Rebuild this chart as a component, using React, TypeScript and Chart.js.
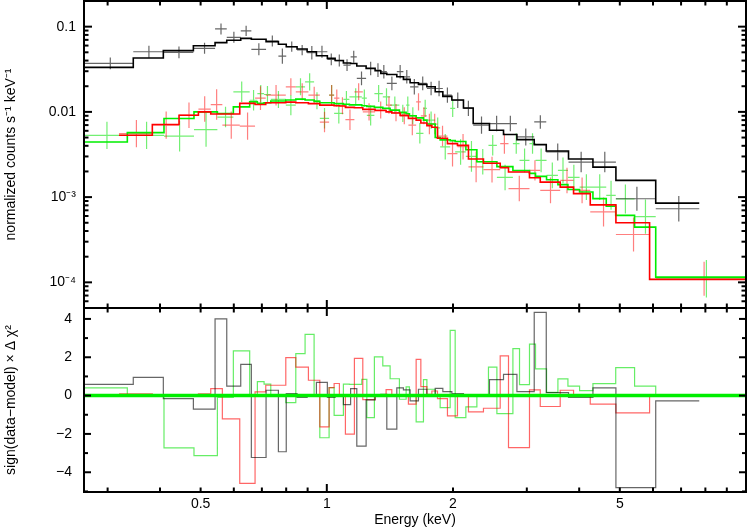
import React, { useEffect, useRef } from 'react';
import { Chart, registerables } from 'chart.js';

Chart.register(...registerables);

// ---------- axis ranges and tick labels ----------
const xRange = [0.2635, 10];
const yTopRange = [5e-5, 0.2];
const yResRange = [-5.03, 4.57];

const xTickValues = [0.5, 1, 2, 5];
const xTickLabels = ['0.5', '1', '2', '5'];
const xMinorTicks = [0.3, 0.4, 0.5, 0.6, 0.7, 0.8, 0.9, 1, 2, 3, 4, 5, 6, 7, 8, 9, 10];
const xMajorTicks = [1, 10];
const yTopTickValues = [0.1, 0.01, 0.001, 0.0001];
const yTopTickLabels = ['0.1', '0.01', '10⁻³', '10⁻⁴'];
const yResTickValues = [4, 2, 0, -2, -4];
const yResTickLabels = ['4', '2', '0', '−2', '−4'];

// ---------- black spectrum ----------
const blackEdges = [0.2635, 0.3454, 0.4074, 0.4805, 0.5413, 0.5772, 0.6233, 0.6607, 0.7163, 0.7665, 0.8003, 0.8493, 0.8975, 0.9445, 1.003, 1.0467, 1.0954, 1.1397, 1.1791, 1.241, 1.3038, 1.3452, 1.3904, 1.469, 1.5232, 1.5802, 1.6543, 1.7328, 1.8137, 1.8915, 1.9875, 2.1184, 2.2346, 2.4437, 2.6397, 2.8413, 3.1246, 3.3381, 3.7724, 4.3139, 4.8941, 6.0904, 7.7356];
const blackData = [0.0371, 0.0508, 0.0499, 0.0557, 0.094, 0.075, 0.089, 0.0542, 0.0679, 0.0452, 0.0582, 0.0532, 0.0494, 0.0508, 0.0413, 0.04, 0.0354, 0.0443, 0.0247, 0.0323, 0.0309, 0.0296, 0.0216, 0.0296, 0.0258, 0.0197, 0.0216, 0.0188, 0.0188, 0.0157, 0.0137, 0.011, 0.00699, 0.0073, 0.0073, 0.00508, 0.00762, 0.00339, 0.00258, 0.00258, 0.000957, 0.00073];
const blackErrDex = [0.07, 0.07, 0.07, 0.065, 0.065, 0.065, 0.06, 0.07, 0.065, 0.09, 0.06, 0.06, 0.08, 0.07, 0.07, 0.07, 0.07, 0.07, 0.08, 0.08, 0.08, 0.08, 0.08, 0.08, 0.08, 0.09, 0.08, 0.08, 0.09, 0.09, 0.09, 0.09, 0.1, 0.09, 0.09, 0.1, 0.08, 0.1, 0.12, 0.12, 0.14, 0.15];
const blackModel = [0.0333, 0.0428, 0.0523, 0.0598, 0.0649, 0.0692, 0.0729, 0.0711, 0.0667, 0.0621, 0.0582, 0.0547, 0.0508, 0.0456, 0.0425, 0.04, 0.0375, 0.037, 0.0345, 0.0324, 0.0304, 0.0283, 0.0275, 0.0258, 0.0241, 0.022, 0.021, 0.0197, 0.0172, 0.0152, 0.0138, 0.0111, 0.0073, 0.0061, 0.00542, 0.00473, 0.00413, 0.00347, 0.0028, 0.00225, 0.00157, 0.00085];
const blackResid = [0.59, 0.95, -0.16, -0.71, 4.0, 0.49, 1.63, -3.23, 0.28, -2.93, 0.1, -0.1, 0.05, 0.69, -0.1, 0.05, -0.47, 0.36, -2.64, -0.22, 0, 0.07, -1.75, 0.4, 0.3, -0.28, 0.33, 0.04, 0.38, 0.21, 0.1, 0, 0, 0.83, 1.11, 0.21, 4.34, 0.16, -0.1, 0.4, -4.8, -0.28];

// ---------- red spectrum ----------
const redEdges = [0.3193, 0.3835, 0.4441, 0.494, 0.5286, 0.5634, 0.6199, 0.6743, 0.7151, 0.7983, 0.8434, 0.9039, 0.9623, 1.0127, 1.041, 1.0717, 1.1076, 1.1637, 1.2186, 1.3038, 1.385, 1.4291, 1.4957, 1.5655, 1.6335, 1.6762, 1.7328, 1.7808, 1.8365, 1.94, 2.0497, 2.1773, 2.3642, 2.592, 2.7129, 3.0444, 3.2299, 3.604, 3.8781, 4.2507, 4.8941, 5.8884, 10.0];
const redData = [0.00557, 0.007, 0.00914, 0.0108, 0.0122, 0.007, 0.0068, 0.0145, 0.0157, 0.0197, 0.0172, 0.0157, 0.0076, 0.0157, 0.0145, 0.0118, 0.0081, 0.0172, 0.01, 0.0105, 0.012, 0.0098, 0.009, 0.007, 0.0131, 0.009, 0.0072, 0.0072, 0.0052, 0.00324, 0.0039, 0.00226, 0.0021, 0.00425, 0.00126, 0.00206, 0.0012, 0.00157, 0.0012, 0.00067, 0.000364, 0.00011];
const redErrDex = [0.16, 0.16, 0.15, 0.15, 0.18, 0.16, 0.16, 0.14, 0.12, 0.1, 0.1, 0.1, 0.12, 0.12, 0.1, 0.1, 0.12, 0.1, 0.1, 0.1, 0.1, 0.1, 0.1, 0.12, 0.1, 0.1, 0.12, 0.12, 0.12, 0.15, 0.15, 0.18, 0.15, 0.12, 0.15, 0.12, 0.15, 0.15, 0.15, 0.17, 0.2, 0.2];
const redModel = [0.00532, 0.00711, 0.00914, 0.01, 0.00943, 0.00943, 0.0126, 0.0122, 0.0128, 0.013, 0.0128, 0.0125, 0.012, 0.012, 0.0118, 0.0117, 0.0113, 0.0112, 0.0107, 0.0104, 0.01, 0.0097, 0.0091, 0.0084, 0.008, 0.0074, 0.0069, 0.0066, 0.0049, 0.00424, 0.00405, 0.0028, 0.0025, 0.00222, 0.00197, 0.00169, 0.0015, 0.00131, 0.0011, 0.00081, 0.0005, 0.000108];
const redResid = [0.09, 0, 0, 0.09, 0.36, -1.21, -4.58, 0.19, 0.54, 1.98, 1.49, 0.8, -1.63, 0.42, 0.63, 0, -2.01, 1.94, -0.21, 0, 0.31, 0, 0, -0.45, 1.89, 0.47, 0.07, 0.24, -0.16, -1.06, 0, -0.85, -0.66, 2.07, -2.71, 0.3, -0.57, 0.28, 0, -0.45, -0.9, 0];

// ---------- green spectrum ----------
const greenEdges = [0.2635, 0.3343, 0.4089, 0.4821, 0.5482, 0.5985, 0.6547, 0.6829, 0.7085, 0.7351, 0.7983, 0.8434, 0.8875, 0.9326, 0.9623, 1.0127, 1.041, 1.0954, 1.132, 1.2119, 1.2459, 1.2987, 1.3601, 1.4159, 1.4901, 1.5461, 1.5745, 1.6335, 1.7004, 1.7328, 1.8137, 1.8638, 1.9693, 2.024, 2.1464, 2.2803, 2.4302, 2.5453, 2.7793, 2.8823, 3.0444, 3.147, 3.3435, 3.5588, 3.7602, 4.0087, 4.3139, 4.6411, 4.889, 5.4225, 6.0904, 10.0];
const greenData = [0.0053, 0.0053, 0.0052, 0.0062, 0.0087, 0.0172, 0.0137, 0.0164, 0.016, 0.014, 0.012, 0.0197, 0.0225, 0.0135, 0.0084, 0.0157, 0.0096, 0.014, 0.015, 0.0145, 0.0091, 0.0164, 0.015, 0.012, 0.0096, 0.012, 0.009, 0.0056, 0.011, 0.008, 0.0065, 0.00389, 0.011, 0.00339, 0.003, 0.0026, 0.00405, 0.0017, 0.00425, 0.0027, 0.00425, 0.0027, 0.0018, 0.00206, 0.0017, 0.00131, 0.00131, 0.00105, 0.00095, 0.00059, 0.00011];
const greenErrDex = [0.16, 0.16, 0.18, 0.2, 0.12, 0.12, 0.12, 0.1, 0.1, 0.1, 0.12, 0.1, 0.1, 0.1, 0.12, 0.12, 0.12, 0.1, 0.1, 0.1, 0.12, 0.1, 0.1, 0.1, 0.1, 0.1, 0.1, 0.12, 0.1, 0.1, 0.12, 0.15, 0.1, 0.15, 0.18, 0.15, 0.12, 0.15, 0.12, 0.14, 0.12, 0.14, 0.15, 0.15, 0.15, 0.15, 0.15, 0.17, 0.17, 0.2, 0.22];
const greenModel = [0.00443, 0.00571, 0.00836, 0.01, 0.00957, 0.01146, 0.0131, 0.0126, 0.0128, 0.0134, 0.0138, 0.0141, 0.0138, 0.0133, 0.0128, 0.0128, 0.0125, 0.0123, 0.0121, 0.0118, 0.0116, 0.0113, 0.011, 0.0105, 0.0099, 0.0095, 0.009, 0.0085, 0.008, 0.0072, 0.005, 0.0047, 0.0046, 0.0045, 0.0036, 0.0026, 0.0026, 0.00228, 0.00205, 0.00205, 0.0019, 0.00175, 0.0016, 0.0014, 0.00123, 0.00115, 0.00096, 0.00078, 0.00061, 0.000444, 0.000115];
const greenResid = [0.4, 0, -2.73, -3.13, -0.1, 2.33, 0, 0.73, 0.6, 0, -0.37, 2.19, 3.19, 0, -2.2, 0.42, -1.03, 0.6, 0.59, 0.85, -1.15, 2.02, 1.55, 0.88, -0.19, 0.45, 0, -1.37, 0.83, 0.33, 0, -0.63, 3.4, -1.15, -0.59, 0, 1.49, -0.94, 2.45, 0.57, 2.69, 1.39, 0.17, 0.87, 0.49, 0.26, 0.62, 0.62, 1.46, 0.49, 0];

const FONT = "'Liberation Sans', Arial, Helvetica, sans-serif";

function stepPoints(edges: number[], vals: number[]) {
  const pts: any[] = vals.map((v, i) => ({ x: edges[i], y: v }));
  pts.push({ x: edges[edges.length - 1], y: vals[vals.length - 1] });
  return pts;
}

function crossPoints(edges: number[], vals: number[], errs: number[]) {
  const pts: any[] = [];
  vals.forEach((v, i) => {
    const lo = edges[i];
    const hi = edges[i + 1];
    const c = (lo + hi) / 2;
    const f = Math.pow(10, errs[i]);
    pts.push({ x: lo, y: v }, { x: hi, y: v }, { x: c, y: null });
    pts.push({ x: c, y: v / f }, { x: c, y: v * f }, { x: c, y: null });
  });
  return pts;
}

function lineDs(data: any[], color: string, width: number, yAxisID: string, order: number, stepped: any) {
  return {
    type: 'line',
    data,
    borderColor: color,
    backgroundColor: color,
    borderWidth: width,
    pointRadius: 0,
    pointHoverRadius: 0,
    fill: false,
    tension: 0,
    spanGaps: false,
    stepped,
    xAxisID: 'x',
    yAxisID,
    order,
  };
}

const frameTicksPlugin = {
  id: 'frameTicks',
  afterDatasetsDraw(chart: any) {
    const { ctx, chartArea } = chart;
    const xs = chart.scales.x;
    const yt = chart.scales.y;
    const yr = chart.scales.yr;
    const L = chartArea.left;
    const R = chartArea.right;
    ctx.save();
    ctx.strokeStyle = '#000';
    const seg = (x1: number, y1: number, x2: number, y2: number, w: number) => {
      ctx.lineWidth = w;
      ctx.beginPath();
      ctx.moveTo(x1, y1);
      ctx.lineTo(x2, y2);
      ctx.stroke();
    };
    for (const v of xMinorTicks) {
      const px = xs.getPixelForValue(v);
      const len = xMajorTicks.includes(v) ? 8 : 4.5;
      seg(px, yt.top, px, yt.top + len, 2);
      seg(px, yt.bottom, px, yt.bottom - len, 2);
      seg(px, yr.top, px, yr.top + len, 2);
      seg(px, yr.bottom, px, yr.bottom - len, 2);
    }
    for (let k = -5; k <= -1; k++) {
      for (let m = 1; m <= 9; m++) {
        const v = m * Math.pow(10, k);
        if (v < yTopRange[0] || v > yTopRange[1]) continue;
        const py = yt.getPixelForValue(v);
        const len = m === 1 ? 8 : 4.5;
        seg(L, py, L + len, py, 2);
        seg(R, py, R - len, py, 2);
      }
    }
    for (let v = -5; v <= 4; v++) {
      if (v < yResRange[0] || v > yResRange[1]) continue;
      const py = yr.getPixelForValue(v);
      const len = v % 2 === 0 ? 7 : 4;
      seg(L, py, L + len, py, 2);
      seg(R, py, R - len, py, 2);
    }
    ctx.lineWidth = 2;
    ctx.strokeRect(L, yt.top, R - L, yt.bottom - yt.top);
    ctx.strokeRect(L, yr.top, R - L, yr.bottom - yr.top);
    ctx.restore();
  },
};

const noPad = (s: any) => {
  s.paddingTop = 0;
  s.paddingBottom = 0;
  s.paddingLeft = 0;
  s.paddingRight = 0;
};

export default function App() {
  const ref = useRef<HTMLCanvasElement>(null);

  useEffect(() => {
    const datasets: any[] = [
      lineDs([{ x: xRange[0], y: 0 }, { x: xRange[1], y: 0 }], '#00ee00', 3.5, 'yr', 0, false),
      lineDs(stepPoints(blackEdges, blackModel), '#000000', 1.6, 'y', 1, 'before'),
      lineDs(stepPoints(redEdges, redModel), '#ff0000', 1.6, 'y', 2, 'before'),
      lineDs(stepPoints(greenEdges, greenModel), '#00ee00', 1.6, 'y', 3, 'before'),
      lineDs(crossPoints(blackEdges, blackData, blackErrDex), 'rgba(0,0,0,0.6)', 1.2, 'y', 4, false),
      lineDs(crossPoints(redEdges, redData, redErrDex), 'rgba(255,0,0,0.5)', 1.2, 'y', 5, false),
      lineDs(crossPoints(greenEdges, greenData, greenErrDex), 'rgba(0,225,0,0.55)', 1.2, 'y', 6, false),
      lineDs(stepPoints(blackEdges, blackResid), 'rgba(0,0,0,0.6)', 1.2, 'yr', 7, 'before'),
      lineDs(stepPoints(redEdges, redResid), 'rgba(255,0,0,0.6)', 1.2, 'yr', 8, 'before'),
      lineDs(stepPoints(greenEdges, greenResid), 'rgba(0,225,0,0.6)', 1.2, 'yr', 9, 'before'),
    ];

    const tickFont = { size: 14, family: FONT };

    const chart = new Chart(ref.current as HTMLCanvasElement, {
      type: 'line',
      data: { datasets },
      options: {
        responsive: false,
        animation: false,
        events: [],
        layout: { padding: { top: 1, right: 1, left: 0, bottom: 0 } },
        plugins: { legend: { display: false }, tooltip: { enabled: false } },
        scales: {
          x: {
            type: 'logarithmic',
            position: 'bottom',
            min: xRange[0],
            max: xRange[1],
            grid: { display: false, drawTicks: false },
            border: { display: false },
            ticks: {
              autoSkip: false,
              maxRotation: 0,
              padding: 4,
              color: '#000',
              font: tickFont,
              callback: (_v: any, i: number) => xTickLabels[i],
            },
            afterBuildTicks: (s: any) => {
              s.ticks = xTickValues.map((v) => ({ value: v }));
            },
            afterFit: (s: any) => {
              s.height = 37;
              noPad(s);
            },
            title: {
              display: true,
              text: 'Energy (keV)',
              color: '#000',
              font: { size: 14, family: FONT },
              padding: { top: 0, bottom: 0 },
            },
          },
          yr: {
            type: 'linear',
            position: 'left',
            stack: 'panels',
            stackWeight: 184,
            min: yResRange[0],
            max: yResRange[1],
            grid: { display: false, drawTicks: false },
            border: { display: false },
            ticks: {
              autoSkip: false,
              padding: 12,
              color: '#000',
              font: tickFont,
              callback: (_v: any, i: number) => yResTickLabels[i],
            },
            afterBuildTicks: (s: any) => {
              s.ticks = yResTickValues.map((v) => ({ value: v }));
            },
            afterFit: (s: any) => {
              s.width = 84;
              noPad(s);
            },
            title: {
              display: true,
              text: 'sign(data−model) × Δ χ²',
              color: '#000',
              font: { size: 14, family: FONT },
              padding: { top: 3, bottom: 0 },
            },
          },
          y: {
            type: 'logarithmic',
            position: 'left',
            stack: 'panels',
            stackWeight: 307,
            min: yTopRange[0],
            max: yTopRange[1],
            grid: { display: false, drawTicks: false },
            border: { display: false },
            ticks: {
              autoSkip: false,
              padding: 8,
              color: '#000',
              font: tickFont,
              callback: (_v: any, i: number) => yTopTickLabels[i],
            },
            afterBuildTicks: (s: any) => {
              s.ticks = yTopTickValues.map((v) => ({ value: v }));
            },
            afterFit: (s: any) => {
              s.width = 84;
              noPad(s);
            },
            title: {
              display: true,
              text: 'normalized counts s⁻¹ keV⁻¹',
              color: '#000',
              font: { size: 14, family: FONT },
              padding: { top: 3, bottom: 0 },
            },
          },
        },
      } as any,
      plugins: [frameTicksPlugin],
    } as any);

    return () => chart.destroy();
  }, []);

  return (
    <div style={{ position: 'fixed', left: 0, top: 0, width: 747, height: 529, background: '#fff' }}>
      <canvas ref={ref} width={747} height={529} style={{ display: 'block', width: 747, height: 529 }} />
    </div>
  );
}
